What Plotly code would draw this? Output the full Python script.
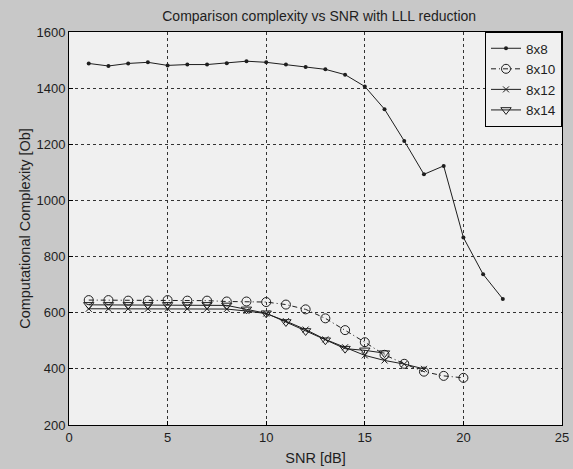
import plotly.graph_objects as go

snr_8x8 = list(range(1, 23))
cc_8x8 = [1488, 1479, 1488, 1492, 1481, 1484, 1484, 1489, 1496, 1492, 1484,
          1475, 1467, 1448, 1406, 1325, 1212, 1093, 1123, 868, 737, 649]

snr_8x10 = list(range(1, 21))
cc_8x10 = [645, 645, 643, 643, 645, 643, 643, 640, 640, 638, 629, 612, 580,
           538, 495, 450, 418, 390, 375, 368]

snr_8x12 = list(range(1, 19))
cc_8x12 = [614, 614, 614, 614, 614, 614, 614, 613, 606, 597, 570, 540, 505,
           477, 448, 430, 417, 400]

snr_8x14 = list(range(1, 17))
cc_8x14 = [628, 628, 628, 628, 628, 628, 628, 626, 612, 598, 567, 535, 502,
           472, 466, 456]

x_ticks = [0, 5, 10, 15, 20, 25]
y_ticks = [200, 400, 600, 800, 1000, 1200, 1400, 1600]

FONT = "Liberation Sans, Arial, sans-serif"
INK = "#1e1e1e"

fig = go.Figure()
fig.add_trace(go.Scatter(
    x=snr_8x8, y=cc_8x8, name="8x8", mode="lines+markers",
    line=dict(color=INK, width=1),
    marker=dict(symbol="circle", size=4, color=INK)))
fig.add_trace(go.Scatter(
    x=snr_8x10, y=cc_8x10, name="8x10", mode="lines+markers",
    line=dict(color=INK, width=1, dash="5px,3px,1px,3px"),
    marker=dict(symbol="circle-open", size=9, color=INK, line=dict(width=1))))
fig.add_trace(go.Scatter(
    x=snr_8x12, y=cc_8x12, name="8x12", mode="lines+markers",
    line=dict(color=INK, width=1),
    marker=dict(symbol="x-thin", size=6, color=INK, line=dict(width=1, color=INK))))
fig.add_trace(go.Scatter(
    x=snr_8x14, y=cc_8x14, name="8x14", mode="lines+markers",
    line=dict(color=INK, width=1),
    marker=dict(symbol="triangle-down-open", size=9, color=INK, line=dict(width=1))))

axis_common = dict(
    showline=True, linecolor="#000000", linewidth=1, mirror=True,
    ticks="inside", ticklen=4, tickcolor="#000000",
    showgrid=True, gridcolor="#333333", gridwidth=1, griddash="3px,3px",
    zeroline=False, tickfont=dict(family=FONT, size=13, color=INK),
    title_font=dict(family=FONT, size=14.5, color=INK),
    ticklabeloverflow="allow",
)

fig.update_layout(
    width=573, height=469,
    margin=dict(l=69, r=4, t=32, b=44),
    paper_bgcolor="#c8c8c8", plot_bgcolor="#f0f0f0",
    font=dict(family=FONT, size=13, color=INK),
    title=dict(text="Comparison complexity vs SNR with LLL reduction",
               x=0.557, xanchor="center", y=0.965, yanchor="middle",
               font=dict(family=FONT, size=14, color=INK)),
    xaxis=dict(axis_common, range=[0, 25], tickvals=x_ticks,
               title=dict(text="SNR [dB]", standoff=9)),
    yaxis=dict(axis_common, range=[200, 1600], tickvals=y_ticks,
               title=dict(text="Computational Complexity [Ob]", standoff=2)),
    legend=dict(x=1, y=1, xanchor="right", yanchor="top",
                bgcolor="#f0f0f0", bordercolor="#000000", borderwidth=1,
                font=dict(family=FONT, size=13.5, color=INK),
                tracegroupgap=0, itemwidth=30),
    showlegend=True,
)

fig.write_html(
    "out.html",
    config={"displayModeBar": False},
    post_script="document.body.style.margin='0';document.body.style.background='#c8c8c8';",
)
